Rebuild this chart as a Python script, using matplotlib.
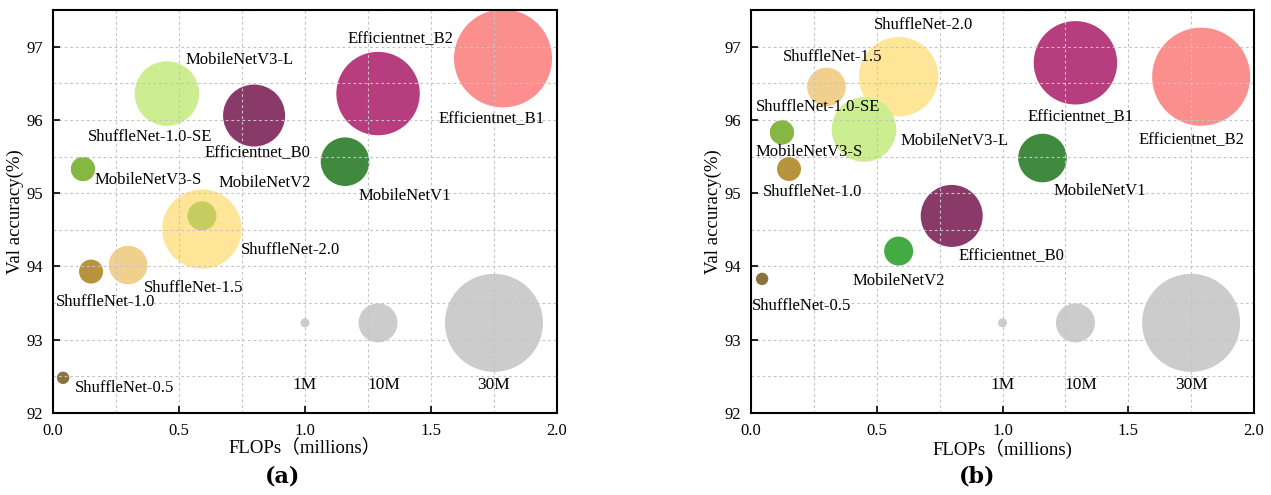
import matplotlib.pyplot as plt
from matplotlib.ticker import MultipleLocator

plt.rcParams['font.family'] = ['Liberation Serif', 'Noto Sans CJK SC']
plt.rcParams['font.size'] = 12

# Modelle (Reihenfolge für beide Teilbilder gleich)
modelle = ['ShuffleNet-0.5', 'ShuffleNet-1.0', 'ShuffleNet-1.5', 'MobileNetV2', 'ShuffleNet-2.0',
           'ShuffleNet-1.0-SE', 'MobileNetV3-S', 'MobileNetV3-L', 'Efficientnet_B0',
           'MobileNetV1', 'Efficientnet_B1', 'Efficientnet_B2']

# FLOPs (millions)
flops_a = [0.04, 0.151, 0.298, 0.591, 0.591, 0.119, 0.119, 0.452, 0.798, 1.159, 1.29, 1.786]
flops_b = [0.044, 0.151, 0.30, 0.587, 0.587, 0.123, 0.123, 0.449, 0.798, 1.159, 1.29, 1.79]

# Val accuracy (%)
acc_a = [92.48, 93.93, 94.02, 94.69, 94.51, 95.33, 95.33, 96.36, 96.06, 95.43, 96.36, 96.84]
acc_b = [93.83, 95.33, 96.45, 94.21, 96.59, 95.83, 95.83, 95.87, 94.69, 95.48, 96.78, 96.59]

# Blasengröße (scatter s)
groesse = [80, 299, 772, 436, 3268, 299, 299, 2163, 1993, 1224, 3606, 4979]

farben = ['#8B7340', '#B8933E', '#F0D08C', '#44AA44', '#FFDB6D', '#86B743', '#86B743',
          '#CCEE90', '#8A3A68', '#3F8A3F', '#B63D7E', '#FA8F8E']
alphas = [1, 1, 1, 1, 0.7, 1, 1, 1, 1, 1, 1, 1]

# Beschriftungen (in a sind B1/B2 vertauscht beschriftet)
namen_a = ['ShuffleNet-0.5', 'ShuffleNet-1.0', 'ShuffleNet-1.5', 'MobileNetV2', 'ShuffleNet-2.0',
           'ShuffleNet-1.0-SE', 'MobileNetV3-S', 'MobileNetV3-L', 'Efficientnet_B0',
           'MobileNetV1', 'Efficientnet_B2', 'Efficientnet_B1']
namen_b = modelle

versatz_a = [(44.6, -7), (10.4, -22), (47, -16.5), (45, 24), (64, -15), (48, 23), (47, -8),
             (52.6, 24.5), (2.5, -27), (43, -25), (16, 39), (-8, -44)]
versatz_b = [(28.4, -19.4), (17, -16.5), (4.7, 21.6), (0, -21.6), (18, 37), (26, 18), (19.4, -14.4),
             (65.5, -8.6), (43, -29), (41, -24), (3.6, -39), (-7, -46)]

# Größenlegende
legende_namen = ['1M', '10M', '30M']
legende_x = [1.0, 1.29, 1.75]
legende_y = 93.23
legende_groesse = [42, 788, 4979]

fig = plt.figure(figsize=(12.71, 4.95), dpi=100)
ax_a = fig.add_axes([0.0417, 0.1657, 0.3965, 0.814])
ax_b = fig.add_axes([0.5909, 0.1657, 0.3957, 0.814])

panels = [(ax_a, flops_a, acc_a, namen_a, versatz_a, 'FLOPs（millions）'),
          (ax_b, flops_b, acc_b, namen_b, versatz_b, 'FLOPs（millions)')]

for ax, xs, ys, namen, versatz, xlabel in panels:
    for i in range(len(modelle)):
        ax.scatter(xs[i], ys[i], s=groesse[i], color=farben[i], alpha=alphas[i],
                   edgecolors='none', zorder=2)
        ax.annotate(namen[i], (xs[i], ys[i]), xytext=versatz[i], textcoords='offset points',
                    ha='center', va='center', fontsize=12, zorder=4)

    ax.scatter(legende_x, [legende_y] * 3, s=legende_groesse, color='#CCCCCC',
               edgecolors='none', zorder=2)
    for name, x in zip(legende_namen, legende_x):
        ax.annotate(name, (x, legende_y), xytext=(4 if name == '10M' else 0, -45),
                    textcoords='offset points', ha='center', va='center', fontsize=12.5)

    ax.set_xlim(0, 2.0)
    ax.set_ylim(92, 97.5)
    ax.xaxis.set_major_locator(MultipleLocator(0.5))
    ax.xaxis.set_minor_locator(MultipleLocator(0.25))
    ax.yaxis.set_major_locator(MultipleLocator(1))
    ax.yaxis.set_minor_locator(MultipleLocator(0.5))
    ax.xaxis.set_major_formatter(plt.FormatStrFormatter('%.1f'))
    ax.grid(which='both', linestyle=(0, (2.5, 2.5)), color='#C4C4C4', linewidth=0.8, zorder=3)
    ax.set_axisbelow(False)
    ax.tick_params(which='major', direction='in', length=5, width=1.2, labelsize=12, pad=7)
    ax.tick_params(which='minor', length=0)
    for sp in ax.spines.values():
        sp.set_linewidth(1.5)
        sp.set_zorder(5)

    ax.set_xlabel(xlabel, fontsize=13.5, labelpad=0)
    ax.set_ylabel('Val accuracy(%)', fontsize=13.5, labelpad=2)

fig.text(283 / 1271, 1 - 477 / 495, '(a)', ha='center', va='center', fontsize=16,
         fontweight='bold', family='DejaVu Serif')
fig.text(977 / 1271, 1 - 477 / 495, '(b)', ha='center', va='center', fontsize=16,
         fontweight='bold', family='DejaVu Serif')

plt.savefig('out.png', dpi=100)
plt.close()
